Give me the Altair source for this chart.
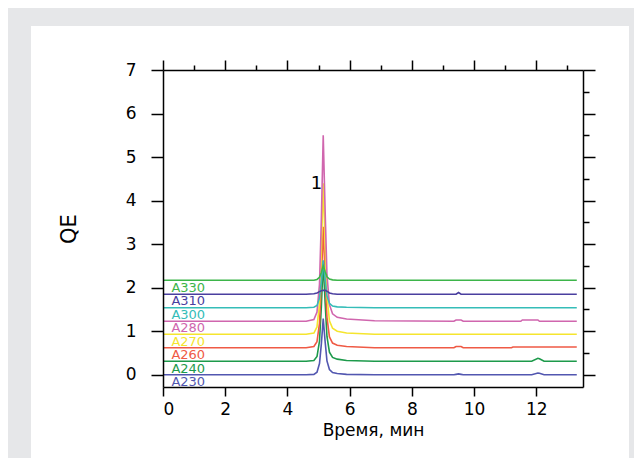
import altair as alt
import pandas as pd

# ---- data ----
time = [0, 4.6, 4.85, 4.95, 5.03, 5.09, 5.15, 5.21, 5.27, 5.35, 5.45, 5.6, 5.9, 6.8,
        9.35, 9.42, 9.5, 9.58, 9.65, 11.2, 11.25, 11.5, 11.55, 11.85, 12.05, 12.1, 12.25, 13.3]

a230 = [0, 0, 0.01, 0.06, 0.26, 0.71, 1.29, 0.77, 0.32, 0.12, 0.05, 0.03, 0.01, 0,
        0, 0.01, 0.02, 0.01, 0, 0, 0, 0, 0, 0, 0.04, 0.035, 0, 0]
a240 = [0.31, 0.31, 0.33, 0.42, 0.77, 1.57, 2.6, 1.68, 0.88, 0.52, 0.40, 0.36, 0.33, 0.31,
        0.31, 0.31, 0.31, 0.31, 0.31, 0.31, 0.31, 0.31, 0.31, 0.31, 0.38, 0.37, 0.31, 0.31]
a260 = [0.62, 0.62, 0.65, 0.76, 1.18, 2.15, 3.4, 2.29, 1.32, 0.87, 0.73, 0.68, 0.65, 0.62,
        0.62, 0.65, 0.65, 0.65, 0.62, 0.62, 0.64, 0.64, 0.64, 0.64, 0.64, 0.64, 0.64, 0.64]
a270 = [0.93, 0.93, 0.96, 1.10, 1.62, 2.84, 4.4, 3.01, 1.80, 1.24, 1.07, 1.0, 0.96, 0.93,
        0.93, 0.93, 0.93, 0.93, 0.93, 0.93, 0.93, 0.93, 0.93, 0.93, 0.93, 0.93, 0.93, 0.93]
a280 = [1.23, 1.23, 1.27, 1.44, 2.08, 3.58, 5.5, 3.79, 2.30, 1.61, 1.40, 1.32, 1.28, 1.24,
        1.23, 1.26, 1.26, 1.26, 1.23, 1.23, 1.23, 1.23, 1.26, 1.26, 1.26, 1.23, 1.23, 1.23]
a300 = [1.54, 1.54, 1.55, 1.59, 1.76, 2.14, 2.63, 2.19, 1.81, 1.64, 1.58, 1.56, 1.55, 1.54,
        1.54, 1.54, 1.54, 1.54, 1.54, 1.54, 1.54, 1.54, 1.54, 1.54, 1.54, 1.54, 1.54, 1.54]
a310 = [1.85, 1.85, 1.86, 1.88, 1.91, 1.93, 1.94, 1.94, 1.92, 1.88, 1.86, 1.85, 1.85, 1.85,
        1.85, 1.85, 1.89, 1.85, 1.85, 1.85, 1.85, 1.85, 1.85, 1.85, 1.85, 1.85, 1.85, 1.85]
a330 = [2.17, 2.17, 2.17, 2.19, 2.24, 2.35, 2.5, 2.37, 2.25, 2.2, 2.18, 2.17, 2.17, 2.17,
        2.17, 2.17, 2.17, 2.17, 2.17, 2.17, 2.17, 2.17, 2.17, 2.17, 2.17, 2.17, 2.17, 2.17]

series_names = ["A230", "A240", "A260", "A270", "A280", "A300", "A310", "A330"]
series_values = [a230, a240, a260, a270, a280, a300, a310, a330]
series_colors = ["#5257B0", "#1D9A4B", "#EF5A45", "#F5E52E", "#D066AE", "#35BDB8", "#4A3F9F", "#3DB54A"]

label_x = [0.27, 0.27, 0.27, 0.27, 0.27, 0.27, 0.27, 0.27]
label_y = [-0.17, 0.14, 0.45, 0.76, 1.07, 1.38, 1.69, 2.0]

peak_label = ["1"]
peak_x = [4.93]
peak_y = [4.39]

x_ticks = [0, 1, 2, 3, 4, 5, 6, 7, 8, 9, 10, 11, 12, 13]
y_ticks = [0, 0.5, 1, 1.5, 2, 2.5, 3, 3.5, 4, 4.5, 5, 5.5, 6, 6.5, 7]

# ---- tables ----
rows = []
for k, (name, vals) in enumerate(zip(series_names, series_values)):
    for t, v in zip(time, vals):
        rows.append({"t": t, "v": v, "s": name, "k": k})
df = pd.DataFrame(rows)
lab_df = pd.DataFrame({"t": label_x, "v": label_y, "s": series_names})
peak_df = pd.DataFrame({"t": peak_x, "v": peak_y, "txt": peak_label})

FONT = "DejaVu Sans"
xscale = alt.Scale(domain=[0, 13.5], nice=False, zero=False)
yscale = alt.Scale(domain=[-0.28, 7], nice=False, zero=False)
cscale = alt.Scale(domain=series_names, range=series_colors)

common = dict(domainColor="black", domainWidth=1.5, tickColor="black", tickWidth=1.5,
              grid=False, zindex=1, labelFont=FONT, labelColor="black",
              titleFont=FONT, titleColor="black", titleFontWeight="normal")

x_bottom = alt.Axis(orient="bottom", values=x_ticks,
                    tickSize={"condition": {"test": "datum.value % 2 === 0", "value": 9}, "value": 5},
                    labelExpr="datum.value % 2 === 0 ? format(datum.value, 'd') : ''",
                    labelFontSize=17, labelPadding=5, title="Время, мин", titleFontSize=17,
                    titleY=48, titleBaseline="alphabetic", **common)
y_left = alt.Axis(orient="left", values=y_ticks,
                  tickSize={"condition": {"test": "datum.value % 1 === 0", "value": 12}, "value": 7},
                  labelExpr="datum.value % 1 === 0 ? format(datum.value, 'd') : ''",
                  labelFontSize=17, labelPadding=15, title="QE", titleFontSize=21,
                  titleX=-94, titleY=158.5, titleAngle=-90, titleBaseline="middle", **common)
x_top = alt.Axis(orient="top", values=x_ticks, labels=False, title=None,
                 tickSize={"condition": {"test": "datum.value % 2 === 0", "value": 10}, "value": 5},
                 **common)
y_right = alt.Axis(orient="right", values=y_ticks, labels=False, title=None,
                   tickSize={"condition": {"test": "datum.value % 1 === 0", "value": 12}, "value": 6},
                   **common)

panel = alt.Chart(pd.DataFrame({"a": [0]})).mark_rect(color="white").encode(
    x=alt.value(-132), x2=alt.value(466), y=alt.value(-44), y2=alt.value(390))

lines = alt.Chart(df).mark_line(strokeWidth=1.6).encode(
    x=alt.X("t:Q", scale=xscale, axis=x_bottom),
    y=alt.Y("v:Q", scale=yscale, axis=y_left),
    color=alt.Color("s:N", scale=cscale, legend=None),
    detail="k:O",
)
labels = alt.Chart(lab_df).mark_text(align="left", baseline="middle", fontSize=13, font=FONT).encode(
    x=alt.X("t:Q", scale=xscale),
    y=alt.Y("v:Q", scale=yscale),
    color=alt.Color("s:N", scale=cscale, legend=None),
    text="s:N",
)
peak = alt.Chart(peak_df).mark_text(align="center", baseline="middle", fontSize=18, font=FONT,
                                    color="black").encode(
    x=alt.X("t:Q", scale=xscale),
    y=alt.Y("v:Q", scale=yscale),
    text="txt:N",
)
main = alt.layer(lines, labels, peak)

mirror = alt.Chart(df).mark_line(opacity=0).encode(
    x=alt.X("t:Q", scale=xscale, axis=x_top),
    y=alt.Y("v:Q", scale=yscale, axis=y_right),
    detail="k:O",
)

chart = alt.layer(panel, main, mirror).resolve_scale(
    x="independent", y="independent"
).properties(
    width=420, height=317,
    autosize=alt.AutoSizeParams(type="none"),
    padding={"left": 155, "top": 62, "right": 51, "bottom": 71},
    background="#E6E7E9",
).configure_view(stroke=None)

chart.save("out.html", embed_options={"renderer": "svg", "actions": False})
